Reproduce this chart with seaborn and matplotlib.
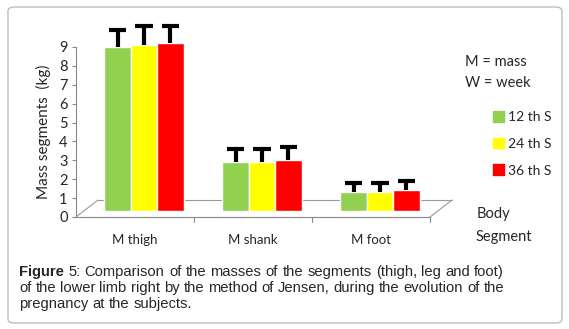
import numpy as np
import pandas as pd
import matplotlib
matplotlib.use("Agg")
import matplotlib.pyplot as plt
import matplotlib.transforms as mtransforms
from matplotlib.patches import FancyBboxPatch, Patch
import seaborn as sns

# data
segments = ["M thigh", "M shank", "M foot"]
weeks = ["12 th S", "24 th S", "36 th S"]
mass_12 = [8.7, 2.6, 1.0]
mass_24 = [8.8, 2.6, 1.0]
mass_36 = [8.9, 2.7, 1.1]
err_12 = [0.9, 0.7, 0.5]
err_24 = [1.0, 0.7, 0.5]
err_36 = [0.9, 0.7, 0.5]
colors = ["#92D050", "#FFFF00", "#FF0000"]

df = pd.DataFrame({
    "segment": segments * 3,
    "week": np.repeat(weeks, 3),
    "mass": mass_12 + mass_24 + mass_36,
    "err": err_12 + err_24 + err_36,
})

sns.set_style("white")
plt.rcParams["font.family"] = ["Lato", "DejaVu Sans"]

fig = plt.figure(figsize=(5.69, 3.29), dpi=100)
W, H = 569, 329

# rounded outer frame
fig.patches.append(FancyBboxPatch((8 / W, 6 / H), 554 / W, 316 / H,
                                  boxstyle="round,pad=0,rounding_size=0.012",
                                  transform=fig.transFigure, fc="none",
                                  ec="#BDBDBD", lw=1.0, zorder=-1))

ax = fig.add_axes([76 / W, 112 / H, 354 / W, 170 / H])
ax.patch.set_alpha(0)

sns.barplot(data=df, x="segment", y="mass", hue="week", palette=colors,
            width=0.67, ax=ax, legend=False, saturation=1, zorder=3)

# 3D-ish shift of the bars (right and up)
shift = mtransforms.offset_copy(ax.transData, fig=fig, x=9, y=6, units="dots")
for p in ax.patches:
    p.set_transform(shift)
    p.set_clip_on(False)

# upward-only error bars (stem + top cap) from the bar positions
errs = df["err"].to_numpy()
for p, e in zip(ax.patches, errs):
    xc = p.get_x() + p.get_width() / 2
    top = p.get_height()
    ax.vlines(xc, top, top + e, colors="black", lw=3, transform=shift,
              clip_on=False, zorder=4)
    ax.hlines(top + e, xc - 0.075, xc + 0.075, colors="black", lw=3,
              transform=shift, clip_on=False, zorder=4)

ax.set_xlim(-0.5, 2.5)
ax.set_ylim(0, 9)
ax.set_yticks(range(10))
ax.tick_params(axis="y", labelsize=10.5, length=3, direction="out", left=True,
               color="#888888", pad=3)
ax.tick_params(axis="x", labelsize=9.5, length=0, pad=12)
for s in ["top", "right"]:
    ax.spines[s].set_visible(False)
for s in ["left", "bottom"]:
    ax.spines[s].set_color("#888888")
    ax.spines[s].set_linewidth(0.8)
ax.set_xlabel("")
ax.set_ylabel("Mass segments  (kg)", fontsize=11, labelpad=6)

# category tick marks on the x axis
for xt in [0.5, 1.5, 2.5]:
    ax.plot([xt, xt], [0, -0.25], color="#888888", lw=0.8, clip_on=False)

# floor of the 3D plot
fx = mtransforms.offset_copy(ax.transData, fig=fig, x=22, y=17, units="dots")
ax.plot([-0.5, 2.5], [0, 0], color="#9A9A9A", lw=0.8, transform=fx,
        clip_on=False, zorder=1)
inv = fig.transFigure.inverted()
for xs in [-0.5, 2.5]:
    a = inv.transform(ax.transData.transform((xs, 0)))
    b = inv.transform(fx.transform((xs, 0)))
    fig.add_artist(plt.Line2D([a[0], b[0]], [a[1], b[1]], color="#9A9A9A", lw=0.8))

# legend and notes
handles = [Patch(color=c, label=w) for c, w in zip(colors, weeks)]
fig.legend(handles=handles, loc="upper left", bbox_to_anchor=(486 / W, 1 - 104 / H),
           frameon=False, fontsize=10, handlelength=0.8, handleheight=0.8,
           handletextpad=0.3, labelspacing=1.05, borderpad=0)
fig.text(465 / W, 1 - 62 / H, "M = mass", fontsize=10.5, va="center")
fig.text(465 / W, 1 - 83 / H, "W = week", fontsize=10.5, va="center")
fig.text(477 / W, 1 - 214 / H, "Body", fontsize=10.5, va="center")
fig.text(476 / W, 1 - 237 / H, "Segment", fontsize=10.5, va="center")

# justified caption
cap_lines = [
    "Figure 5: Comparison of the masses of the segments (thigh, leg and foot)",
    "of the lower limb right by the method of Jensen, during the evolution of the",
    "pregnancy at the subjects.",
]
cap_fs = 10.6
renderer = fig.canvas.get_renderer()
x_left, x_right = 19, 504
ys = [272, 288, 304]
for i, (line, yy) in enumerate(zip(cap_lines, ys)):
    words = line.split(" ")
    arts = []
    for j, wd in enumerate(words):
        bold = (i == 0 and j == 0)
        t = fig.text(0, 1 - yy / H, wd, fontsize=cap_fs, va="center",
                     family="Liberation Sans", weight="bold" if bold else "normal")
        arts.append(t)
    widths = [t.get_window_extent(renderer).width for t in arts]
    if i < len(cap_lines) - 1:
        gap = (x_right - x_left - sum(widths)) / (len(words) - 1)
    else:
        gap = cap_fs * 100 / 72 * 0.278
    x = x_left
    for t, w in zip(arts, widths):
        t.set_x(x / W)
        x += w + gap

fig.savefig("out.png", dpi=100)
